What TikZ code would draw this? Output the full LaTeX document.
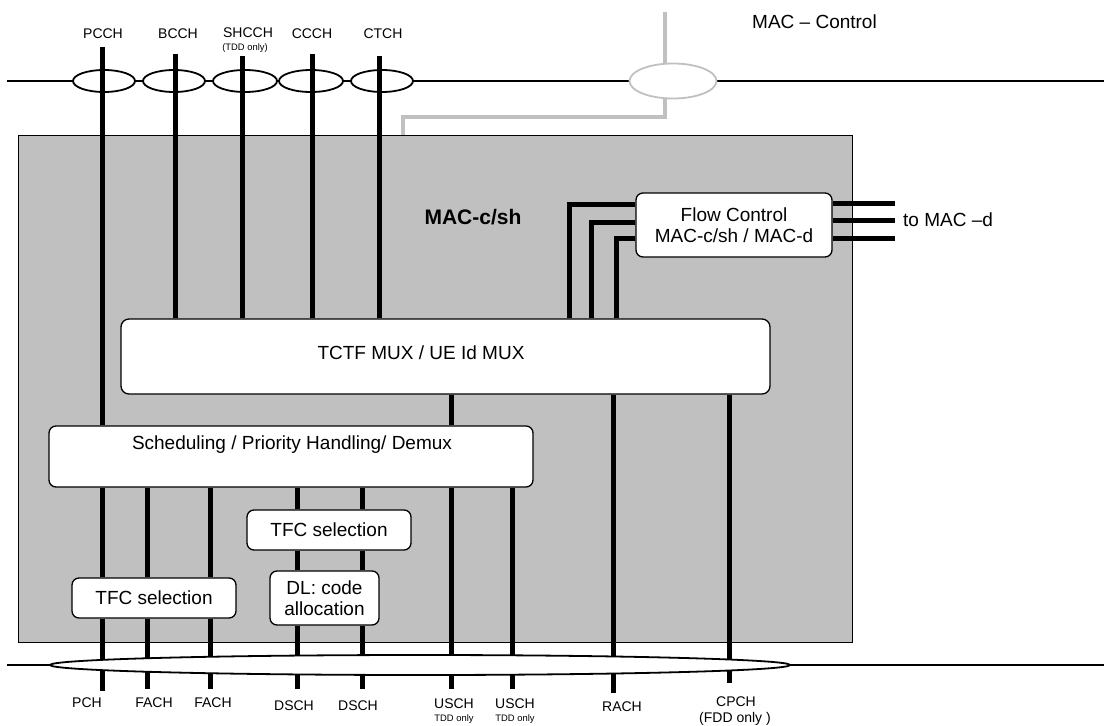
\documentclass[tikz,border=0pt]{standalone}
\usepackage{fontspec}
\setmainfont{Liberation Sans}
\usepackage{tikz}
\usetikzlibrary{positioning, shapes.geometric, calc}
\usepackage{xcolor}
\definecolor{macgray}{HTML}{C0C0C0}

\newcommand{\lblfont}{\fontsize{14}{16}\selectfont}
\newcommand{\notefont}{\fontsize{9.4}{10}\selectfont}
\newcommand{\boxfont}{\fontsize{19}{21}\selectfont}

\begin{document}
\begin{tikzpicture}[
    x=1pt, y=-1pt,
    blk/.style={rectangle, draw, fill=white, rounded corners=7pt, line width=1.3pt, inner sep=0pt},
    txt/.style={font=\boxfont, align=center, inner sep=0pt},
    lbl/.style={font=\lblfont, inner sep=0pt},
    note/.style={font=\notefont, inner sep=0pt},
    chan/.style={line width=5pt},
    bus/.style={line width=1.8pt},
    lch/.style={ellipse, draw, fill=white, line width=1.8pt, minimum width=62pt, minimum height=22pt, inner sep=0pt},
    ctrl/.style={draw=macgray, line width=4.5pt}
]
\useasboundingbox (0,0) rectangle (1104,726);

% MAC-c/sh panel
\node[draw, fill=macgray, line width=0.9pt, minimum width=834pt, minimum height=507pt, inner sep=0pt] (macsh) at (435,388.5) {};
\node[font=\bfseries\fontsize{21}{24}\selectfont, inner sep=0pt] (mactitle) at (473,217) {MAC-c/sh};

% logical channels (top)
\coordinate (tl) at (7,81);
\coordinate (tr) at (1104,81);
\draw[bus] (tl) -- (tr);
\node[lch] (e1) at (104,81) {};
\node[lch] (e2) at (174,81) {};
\node[lch, minimum width=64pt] (e3) at (245,81) {};
\node[lch, minimum width=64pt] (e4) at (311,81) {};
\node[lch] (e5) at (382,81) {};
\node[lch, draw=macgray, minimum width=87pt, minimum height=35pt] (ec) at (673,81) {};

\node[lbl] (pcch) at (103,34) {PCCH};
\node[lbl] (bcch) at (178,34) {BCCH};
\node[lbl] (shcch) at (248,33) {SHCCH};
\node[note] (shcchn) at (245,48) {(TDD only)};
\node[lbl] (ccch) at (312,34) {CCCH};
\node[lbl] (ctch) at (383,34) {CTCH};
\node[txt, anchor=west] (macctrl) at (752,22) {MAC – Control};

% MAC control
\coordinate (ctrl-in) at (665,12);
\coordinate (ctrl-out) at (403,135);
\draw[ctrl] (ctrl-in) -- (ctrl-in |- ec.north);
\draw[ctrl] (ctrl-in |- ec.south) |- (ctrl-out |- 0,117) -- (ctrl-out);

% blocks
\node[blk, minimum width=649pt, minimum height=75pt, rounded corners=8pt] (tctf) at (445.5,356.5) {};
\node[txt] (tctftxt) at (421,353) {TCTF MUX / UE Id MUX};
\node[blk, minimum width=484pt, minimum height=61pt] (sched) at (291,456.5) {};
\node[txt] (schedtxt) at (292,445) {Scheduling / Priority Handling/ Demux};
\node[blk, txt, minimum width=164pt, minimum height=40pt] (tfcl) at (154,598) {TFC selection};
\node[blk, txt, minimum width=164pt, minimum height=40pt] (tfcm) at (329,530) {TFC selection};
\node[blk, txt, minimum width=109pt, minimum height=54pt] (dl) at (324.5,598) {DL: code\\allocation};
\node[blk, txt, minimum width=196pt, minimum height=64pt] (flow) at (734,225) {Flow Control\\MAC-c/sh / MAC-d};
\node[txt, anchor=west] (tomacd) at (903,220) {to MAC –d};

% channel ends
\foreach \n/\x/\y in {pcch/102/47, bcch/175/54, shcch/242/56, ccch/312/54, ctch/379/56}
    \coordinate (\n-top) at (\x,\y);
\foreach \n/\x/\y in {pch/102/691, facha/147/689, fachb/210/689, dscha/297/689, dschb/362/689,
                      uscha/451/689, uschb/512/689, rach/613/693, cpch/729/683}
    \coordinate (\n-bot) at (\x,\y);
\coordinate (macd-in) at (895,220);

% channels
\draw[chan] (pcch-top) -- (pcch-top |- sched.north);
\foreach \n in {bcch, shcch, ccch, ctch}
    \draw[chan] (\n-top) -- (\n-top |- tctf.north);
\foreach \n in {pch, facha, fachb} {
    \draw[chan] (\n-bot |- sched.south) -- (\n-bot |- tfcl.north);
    \draw[chan] (\n-bot |- tfcl.south) -- (\n-bot);
}
\foreach \n in {dscha, dschb} {
    \draw[chan] (\n-bot |- sched.south) -- (\n-bot |- tfcm.north);
    \draw[chan] (\n-bot |- tfcm.south) -- (\n-bot |- dl.north);
    \draw[chan] (\n-bot |- dl.south) -- (\n-bot);
}
\draw[chan] (uscha-bot |- tctf.south) -- (uscha-bot |- sched.north);
\foreach \n in {uscha, uschb}
    \draw[chan] (\n-bot |- sched.south) -- (\n-bot);
\foreach \n in {rach, cpch}
    \draw[chan] (\n-bot |- tctf.south) -- (\n-bot);

% flow control
\foreach \y/\x in {204/569, 222/591, 238/616}
    \draw[chan] (flow.west |- 0,\y) -| (\x,0 |- tctf.north);
\foreach \y in {203, 220, 238}
    \draw[chan] (flow.east |- 0,\y) -- (macd-in |- 0,\y);

% transport channels (bottom)
\coordinate (bl) at (7,665);
\coordinate (br) at (1104,665);
\draw[bus] (bl) -- (br);
\node[lch, minimum width=740pt, minimum height=20pt] (trch) at (420,665) {};

\node[lbl] (pch) at (87,703) {PCH};
\node[lbl] (facha) at (154,703) {FACH};
\node[lbl] (fachb) at (213,703) {FACH};
\node[lbl] (dscha) at (294,706) {DSCH};
\node[lbl] (dschb) at (358,706) {DSCH};
\node[lbl] (uscha) at (454,704) {USCH};
\node[note] (uschan) at (454,719) {TDD only};
\node[lbl] (uschb) at (515,704) {USCH};
\node[note] (uschbn) at (515,719) {TDD only};
\node[lbl] (rach) at (622,707) {RACH};
\node[lbl] (cpch) at (736,702) {CPCH};
\node[lbl] (cpchn) at (735,719) {(FDD only )};
\end{tikzpicture}
\end{document}
